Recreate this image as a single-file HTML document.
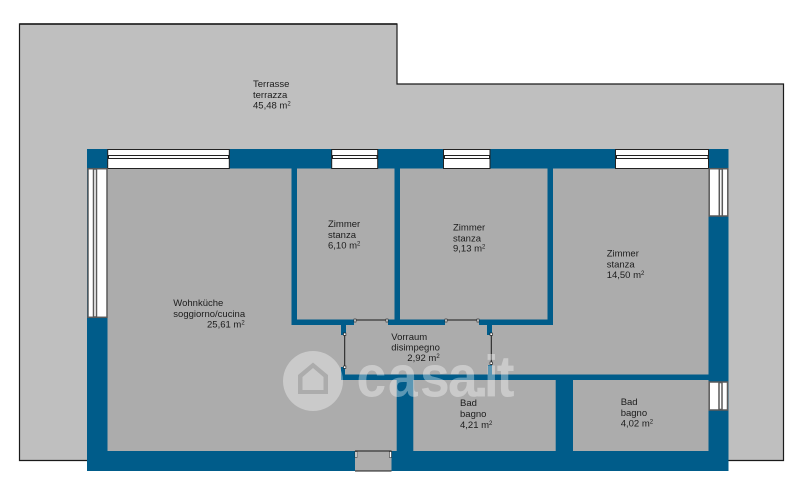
<!DOCTYPE html>
<html><head><meta charset="utf-8"><style>
html,body{margin:0;padding:0;background:#fff}
svg{display:block;filter:blur(.3px)}
text{font-family:"Liberation Sans",sans-serif;font-size:9.5px;fill:#1c1c1c}
</style></head><body>
<svg width="800" height="486" viewBox="0 0 800 486" xmlns="http://www.w3.org/2000/svg">
<rect width="800" height="486" fill="#fff"/>
<!-- terrace -->
<polygon points="19.5,24 397,24 397,84 783.5,84 783.5,460.5 19.5,460.5" fill="#bfbfbf"/>
<polyline points="88,460.5 19.5,460.5 19.5,24 397,24 397,84 783.5,84 783.5,460.5 728,460.5" fill="none" stroke="#1a1a1a" stroke-width="1.2"/>
<line x1="19.5" y1="24" x2="397" y2="24" stroke="#1a1a1a" stroke-width="1.5"/>
<!-- outer wall -->
<rect x="87" y="149" width="641.5" height="322" fill="#005c8a"/>
<!-- rooms -->
<rect x="107.5" y="168.5" width="601" height="282.5" fill="#acacac"/>
<!-- interior walls -->
<g fill="#005c8a">
<rect x="291.5" y="168" width="5.5" height="157"/>
<rect x="394.5" y="168" width="5.5" height="157"/>
<rect x="547.5" y="168" width="5.5" height="157"/>
<rect x="291.5" y="319.5" width="62.5" height="5.5"/>
<rect x="388" y="319.5" width="57" height="5.5"/>
<rect x="479" y="319.5" width="74" height="5.5"/>
<rect x="341" y="322" width="5" height="13"/>
<rect x="487" y="322" width="5" height="13"/>
<rect x="341" y="367" width="4" height="13"/>
<rect x="488" y="365" width="4" height="10"/>
<rect x="341" y="374.5" width="368" height="5.5"/>
<rect x="396.7" y="378" width="16.6" height="73"/>
<rect x="555.7" y="378" width="17.3" height="73"/>
</g>
<!-- doors -->
<g fill="none" stroke="#1a1a1a" stroke-width="1">
<line x1="354" y1="320" x2="388" y2="320"/>
<line x1="445" y1="320" x2="479" y2="320"/>
<line x1="344.7" y1="335" x2="344.7" y2="367"/>
<line x1="491.3" y1="335" x2="491.3" y2="365"/>
</g>
<g fill="#fff" stroke="#1a1a1a" stroke-width=".6">
<rect x="354" y="319" width="2" height="3"/>
<rect x="386" y="319" width="2" height="3"/>
<rect x="445" y="319" width="2" height="3"/>
<rect x="477" y="319" width="2" height="3"/>
<rect x="343.5" y="333" width="2.4" height="2.4"/>
<rect x="343.5" y="366" width="2.4" height="2.4"/>
<rect x="490" y="333" width="2.4" height="2.4"/>
<rect x="490" y="362" width="2.4" height="2.4"/>
</g>
<!-- entrance -->
<rect x="355" y="451" width="36.5" height="20" fill="#acacac"/>
<line x1="355" y1="451" x2="391.5" y2="451" stroke="#1a1a1a" stroke-width="1"/>
<line x1="355" y1="471" x2="391.5" y2="471" stroke="#1a1a1a" stroke-width="1"/>
<rect x="355" y="451.5" width="2" height="6" fill="#fff" stroke="#1a1a1a" stroke-width=".5"/>
<rect x="389.5" y="451.5" width="2" height="6" fill="#fff" stroke="#1a1a1a" stroke-width=".5"/>
<!-- top windows -->
<g fill="#fff" stroke="#222" stroke-width="1">
<rect x="107.7" y="149.5" width="121.6" height="19"/>
<rect x="331.7" y="149.5" width="46" height="19"/>
<rect x="443.5" y="149.5" width="46.5" height="19"/>
<rect x="615.5" y="149.5" width="93" height="19"/>
<rect x="108.5" y="155.5" width="120" height="3"/>
<rect x="332.5" y="155.5" width="44.5" height="3"/>
<rect x="444.5" y="155.5" width="45" height="3"/>
<rect x="616.5" y="155.5" width="91.5" height="3"/>
</g>
<!-- side windows -->
<g fill="#fff" stroke="#5a5a5a" stroke-width="1.5">
<rect x="88" y="168.7" width="19" height="148.6"/>
<rect x="93.5" y="169" width="3" height="148"/>
<rect x="709.2" y="168.7" width="18.6" height="47.3"/>
<rect x="719.3" y="169" width="3" height="47"/>
<rect x="709.2" y="382" width="18.3" height="28"/>
<rect x="719" y="382.5" width="3" height="27"/>
</g>
<!-- labels -->
<text x="253" y="87">Terrasse</text><text x="253" y="98">terrazza</text><text x="253" y="108.5">45,48 m<tspan font-size="6" dy="-3">2</tspan></text>
<text x="173.3" y="306">Wohnküche</text><text x="173.3" y="317">soggiorno/cucina</text><text x="207" y="327.7">25,61 m<tspan font-size="6" dy="-3">2</tspan></text>
<text x="328" y="227">Zimmer</text><text x="328" y="238">stanza</text><text x="328" y="248.7">6,10 m<tspan font-size="6" dy="-3">2</tspan></text>
<text x="453" y="230.3">Zimmer</text><text x="453" y="241.3">stanza</text><text x="453" y="251.7">9,13 m<tspan font-size="6" dy="-3">2</tspan></text>
<text x="606.7" y="256.7">Zimmer</text><text x="606.7" y="267.7">stanza</text><text x="606.7" y="278">14,50 m<tspan font-size="6" dy="-3">2</tspan></text>
<text x="391.3" y="340">Vorraum</text><text x="391.3" y="350.7">disimpegno</text><text x="407.3" y="361">2,92 m<tspan font-size="6" dy="-3">2</tspan></text>
<text x="460" y="406">Bad</text><text x="460" y="417">bagno</text><text x="460" y="428">4,21 m<tspan font-size="6" dy="-3">2</tspan></text>
<text x="620.7" y="405">Bad</text><text x="620.7" y="416">bagno</text><text x="620.7" y="426.7">4,02 m<tspan font-size="6" dy="-3">2</tspan></text>
<!-- watermark -->
<g opacity=".36">
<path fill="#fff" fill-rule="evenodd" d="M313,351a30,30 0 1,0 .01,0z M313,362.5 L298,375 L298,394 L328,394 L328,375z M313,368 L323.5,377 L323.5,390 L302.5,390 L302.5,377z"/>
<text transform="scale(.92,1)" x="387.5 421.7 456.5 487 515 526 540" y="396.5" style="font-size:58px;font-weight:bold;fill:#fff">casa.it</text>
</g>
</svg>
</body></html>
